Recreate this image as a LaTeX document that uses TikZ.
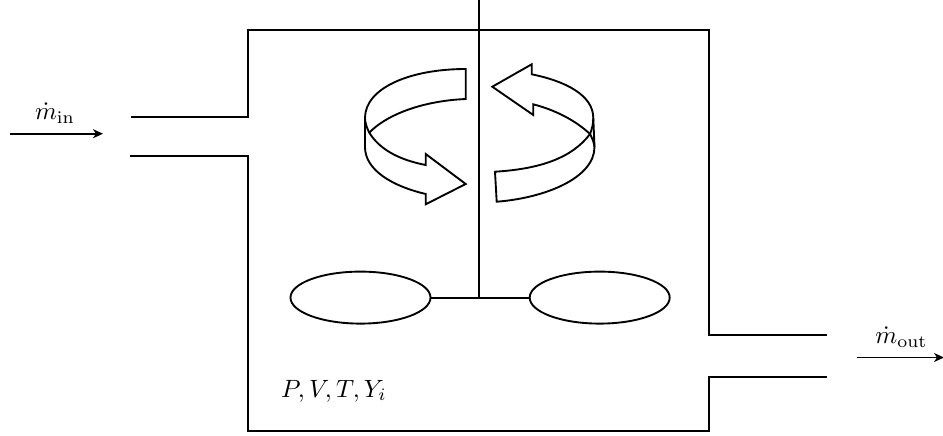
\documentclass[tikz,border=0pt]{standalone}
\usetikzlibrary{shapes.geometric,arrows.meta}
\tikzset{
  wall/.style={line width=0.8pt,line join=miter},
  band/.style={line width=0.75pt,line join=miter},
  flow/.style={line width=0.75pt,-{Stealth[length=4pt,width=3.6pt,inset=1.2pt]}},
  blade/.style={draw,ellipse,line width=0.75pt,minimum width=56pt,minimum height=20.8pt,inner sep=0pt},
  lbl/.style={inner sep=0pt}
}
\begin{document}
\begin{tikzpicture}[x=0.4pt,y=-0.4pt]
\useasboundingbox (0,0) rectangle (943,435);
% vessel
\draw[wall] (131,117) -- (248,117) -- (248,30) -- (709,30) -- (709,335) -- (827,335);
\draw[wall] (130,155.5) -- (248,155.5) -- (248,431) -- (709,431) -- (709,377) -- (827,377);
% impeller
\node[blade] (bl) at (360.5,297.6) {};
\node[blade] (br) at (599.7,297.6) {};
\coordinate (shafttop) at (479,0);
\coordinate (hub) at (479,297.6);
\draw[wall] (shafttop) -- (hub);
\draw[band] (bl) -- (br);
% left swirl arrow
\draw[band] (465.7,69) .. controls (410,69) and (365,88) .. (365,118)
  -- (365,147) .. controls (365,170) and (392,186) .. (425.7,194)
  -- (425.7,204.3) -- (465.7,184) -- (425.7,154) -- (425.7,165)
  .. controls (400,160) and (380,150) .. (369.3,132.7)
  .. controls (385,116) and (420,101) .. (465.7,99) -- cycle;
\draw[band] (365,118) .. controls (365,123) and (367,128) .. (369.3,132.7);
% right swirl arrow
\draw[band] (492.3,86.7) -- (531.7,64.3) -- (531.7,74.3)
  .. controls (565,81) and (593.3,95) .. (593.3,118)
  -- (594.5,147) .. controls (594.5,178) and (545,198) .. (496.7,201.7)
  -- (495,171.7) .. controls (540,169) and (572,158) .. (590,134)
  .. controls (575,120) and (555,110) .. (533.3,104.3)
  -- (533.3,115) -- cycle;
\draw[band] (593.3,118) .. controls (593.3,124) and (592,129) .. (590,134);
\draw[band] (590,134) .. controls (592,138) and (594,142) .. (594.5,147);
% flows
\coordinate (ins) at (10,133.7);
\coordinate (ine) at (103,133.7);
\draw[flow] (ins) -- (ine);
\node[lbl] (minl) at (55,113) {$\dot m_{\mathrm{in}}$};
\coordinate (outs) at (857,357.5);
\coordinate (oute) at (944,357.5);
\draw[flow] (outs) -- (oute);
\node[lbl] (moutl) at (901.5,337) {$\dot m_{\mathrm{out}}$};
\node[lbl] (state) at (334,391) {$P,V,T,Y_i$};
\end{tikzpicture}
\end{document}
